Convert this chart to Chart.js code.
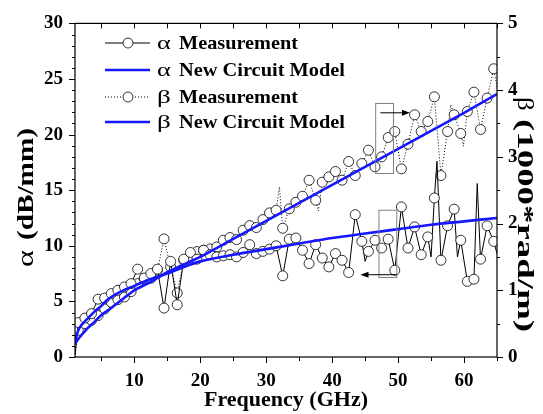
<!DOCTYPE html>
<html>
<head>
<meta charset="utf-8">
<script src="https://cdn.jsdelivr.net/npm/chart.js@4/dist/chart.umd.min.js"></script>
<style>
  html, body { margin: 0; padding: 0; background: #fff; }
  #graph { width: 543px; height: 414px; }
</style>
</head>
<body>
<div id="graph"><canvas id="line-chart" width="543" height="414"></canvas></div>
<script>
// measured points (markers), frequency in GHz
var freqMeas = [1.5, 2.5, 3.5, 4.5, 5.5, 6.5, 7.5, 8.5, 9.5, 10.5, 11.5, 12.5, 13.5, 14.5, 15.5, 16.5,
  17.5, 18.5, 19.5, 20.5, 21.5, 22.5, 23.5, 24.5, 25.5, 26.5, 27.5, 28.5, 29.5, 30.5, 31.5, 32.5,
  33.5, 34.5, 35.5, 36.5, 37.5, 38.5, 39.5, 40.5, 41.5, 42.5, 43.5, 44.5, 45.5, 46.5, 47.5, 48.5,
  49.5, 50.5, 51.5, 52.5, 53.5, 54.5, 55.5, 56.5, 57.5, 58.5, 59.5, 60.5, 61.5, 62.5, 63.5, 64.5];

// alpha (dB/mm), left axis
var alphaMeas = [3.1, 3.5, 3.9, 5.2, 5.3, 5.7, 6.0, 6.3, 6.6, 7.9, 7.1, 7.5, 7.9, 4.4, 8.6, 4.7,
  8.8, 9.4, 8.8, 9.6, 9.2, 9.0, 9.1, 9.2, 9.0, 9.4, 10.1, 9.3, 9.5, 9.7, 10.0, 7.3,
  10.6, 10.7, 9.6, 8.4, 10.1, 8.9, 8.1, 9.3, 8.7, 7.6, 12.8, 10.4, 9.5, 10.5, 9.8, 10.6,
  7.8, 13.5, 9.8, 11.7, 9.2, 10.8, 14.3, 8.7, 11.8, 13.3, 10.5, 6.8, 7.0, 8.8, 11.8, 10.4];
// in-between alpha samples drawn without marker
var alphaSpikeFreq = [1.0, 45.0, 55.0, 55.9, 59.0, 62.0, 65.0];
var alphaSpikeVal = [0.2, 8.6, 9.0, 17.6, 9.0, 15.6, 9.3];

// beta (1000*rad/m), right axis
var betaMeas = [0.4, 0.5, 0.55, 0.62, 0.72, 0.82, 0.86, 0.9, 0.98, 1.1, 1.17, 1.18, 1.3, 1.77, 1.35, 0.96,
  1.45, 1.48, 1.58, 1.6, 1.62, 1.65, 1.75, 1.79, 1.76, 1.9, 1.97, 1.94, 2.06, 2.16, 2.2, 1.93,
  2.22, 2.32, 2.41, 2.65, 2.35, 2.62, 2.7, 2.78, 2.65, 2.93, 2.72, 2.9, 3.1, 2.85, 3.0, 3.29,
  3.38, 2.82, 3.19, 3.63, 3.38, 3.53, 3.9, 2.72, 3.38, 3.63, 3.35, 3.68, 3.97, 3.41, 3.88, 4.32];
var betaSpikeFreq = [1.0, 32.0, 37.9, 58.0, 59.9, 65.0];
var betaSpikeVal = [0.0, 2.55, 2.19, 3.78, 3.16, 4.05];

// new circuit model curves
var modelFreq = [1, 1.5, 2, 3, 4, 5, 6, 8, 10, 12, 15, 18, 20, 25, 30, 35, 40, 45, 50, 55, 60, 65];
var alphaModel = [1.5, 2.4, 2.9, 3.5, 4.1, 4.6, 5.2, 5.9, 6.4, 6.9, 7.5, 8.2, 8.6, 9.2, 9.7, 10.2, 10.7, 11.1, 11.5, 11.9, 12.2, 12.5];
var betaModel = [0.2, 0.27, 0.33, 0.44, 0.53, 0.63, 0.7, 0.85, 1.0, 1.1, 1.27, 1.41, 1.5, 1.77, 2.04, 2.31, 2.58, 2.85, 3.12, 3.39, 3.66, 3.94];

var xTicks = [10, 20, 30, 40, 50, 60];
var leftTicks = [0, 5, 10, 15, 20, 25, 30];
var rightTicks = [0, 1, 2, 3, 4, 5];

var serif = "'Liberation Serif', 'Times New Roman', serif";
var blue = '#1616ff';

function buildSeries(fm, vm, fs, vs) {
  var pts = [];
  for (var i = 0; i < fm.length; i++) pts.push({x: fm[i], y: vm[i], mark: true});
  for (var j = 0; j < fs.length; j++) pts.push({x: fs[j], y: vs[j], mark: false});
  pts.sort(function (a, b) { return a.x - b.x; });
  return pts;
}

function pairs(f, v) {
  return f.map(function (x, i) { return {x: x, y: v[i]}; });
}

function markerRadius(c) {
  return c.raw && c.raw.mark ? 5 : 0;
}

function setTicks(list) {
  return function (scale) {
    scale.ticks = list.map(function (v) { return {value: v}; });
  };
}

function drawArrow(ctx, x1, y, x2) {
  var dir = x2 > x1 ? 1 : -1;
  ctx.beginPath();
  ctx.moveTo(x1, y); ctx.lineTo(x2 - dir * 6, y);
  ctx.stroke();
  ctx.beginPath();
  ctx.moveTo(x2, y); ctx.lineTo(x2 - dir * 8, y - 3); ctx.lineTo(x2 - dir * 8, y + 3);
  ctx.closePath(); ctx.fill();
}

// symbol in regular weight, rest in bold, squeezed/stretched to a given length
function fitText(ctx, sym, rest, size, symW, totalW) {
  ctx.font = size + 'px ' + serif;
  var ws = ctx.measureText(sym).width;
  ctx.save();
  ctx.scale(symW / (ws * 1.6), 1);
  ctx.fillText(sym, 0, 0);
  ctx.restore();
  ctx.font = 'bold ' + size + 'px ' + serif;
  var wr = ctx.measureText(rest).width;
  ctx.save();
  ctx.translate(symW, 0);
  ctx.scale((totalW - symW) / wr, 1);
  ctx.fillText(rest, 0, 0);
  ctx.restore();
}

var decor = {
  id: 'decor',
  afterDraw: function (chart) {
    var ctx = chart.ctx, a = chart.chartArea;
    var sx = chart.scales.x, sl = chart.scales.yL, sr = chart.scales.yR;
    ctx.save();
    ctx.strokeStyle = '#000';
    ctx.fillStyle = '#000';
    ctx.lineWidth = 1.2;
    ctx.strokeRect(a.left, a.top, a.right - a.left, a.bottom - a.top);

    // tick marks
    ctx.lineWidth = 1;
    ctx.beginPath();
    for (var f = 5; f <= 65; f += 5) {
      var px = Math.round(sx.getPixelForValue(f)) + 0.5;
      var len = f % 10 === 0 ? 6 : 4;
      ctx.moveTo(px, a.bottom); ctx.lineTo(px, a.bottom + len);
      ctx.moveTo(px, a.top); ctx.lineTo(px, a.top + 5);
    }
    for (var v = 0; v <= 30; v++) {
      var py = Math.round(sl.getPixelForValue(v)) + 0.5;
      ctx.moveTo(a.left, py); ctx.lineTo(a.left - (v % 5 === 0 ? 6 : 3), py);
    }
    for (var w = 0; w <= 10; w++) {
      var pr = Math.round(sr.getPixelForValue(w / 2)) + 0.5;
      ctx.moveTo(a.right, pr); ctx.lineTo(a.right + (w % 2 === 0 ? 6 : 3), pr);
    }
    ctx.stroke();

    // highlight boxes and arrows
    ctx.strokeStyle = '#808080';
    ctx.lineWidth = 1;
    var bx1 = sx.getPixelForValue(46.6), bx2 = sx.getPixelForValue(49.3);
    var by1 = sr.getPixelForValue(3.8), by2 = sr.getPixelForValue(2.75);
    ctx.strokeRect(bx1, by1, bx2 - bx1, by2 - by1);
    var cx1 = sx.getPixelForValue(47.1), cx2 = sx.getPixelForValue(49.8);
    var cy1 = sl.getPixelForValue(13.2), cy2 = sl.getPixelForValue(7.15);
    ctx.strokeRect(cx1, cy1, cx2 - cx1, cy2 - cy1);
    ctx.strokeStyle = '#000';
    drawArrow(ctx, sx.getPixelForValue(47.3), sr.getPixelForValue(3.66), sx.getPixelForValue(51.8));
    drawArrow(ctx, sx.getPixelForValue(49.8), sl.getPixelForValue(7.4), sx.getPixelForValue(44.3));

    // legend
    var rows = [
      {y: 43, sym: 'α', text: 'Measurement', w: 141, color: '#000', width: 1, dash: [], mark: true},
      {y: 70, sym: 'α', text: 'New Circuit Model', w: 188, color: blue, width: 2.6, dash: [], mark: false},
      {y: 97, sym: 'β', text: 'Measurement', w: 141, color: '#000', width: 1, dash: [1, 2], mark: true},
      {y: 122, sym: 'β', text: 'New Circuit Model', w: 188, color: blue, width: 2.6, dash: [], mark: false}
    ];
    rows.forEach(function (r) {
      ctx.strokeStyle = r.color;
      ctx.lineWidth = r.width;
      ctx.setLineDash(r.dash);
      ctx.beginPath();
      ctx.moveTo(105, r.y); ctx.lineTo(150, r.y);
      ctx.stroke();
      ctx.setLineDash([]);
      if (r.mark) {
        ctx.beginPath();
        ctx.arc(128, r.y, 5, 0, Math.PI * 2);
        ctx.fillStyle = '#fff'; ctx.fill();
        ctx.strokeStyle = '#000'; ctx.lineWidth = 0.8; ctx.stroke();
      }
      ctx.fillStyle = '#000';
      ctx.textBaseline = 'middle';
      ctx.textAlign = 'left';
      ctx.save();
      ctx.translate(157, r.y + 1);
      fitText(ctx, r.sym, r.text, 19, 22, r.w);
      ctx.restore();
    });

    // axis titles
    ctx.textBaseline = 'middle';
    ctx.textAlign = 'center';
    ctx.font = 'bold 22px ' + serif;
    ctx.fillText('Frequency (GHz)', (a.left + a.right) / 2, 400);

    ctx.textAlign = 'left';
    ctx.save();
    ctx.translate(27, 267);
    ctx.rotate(-Math.PI / 2);
    fitText(ctx, 'α', '(dB/mm)', 23, 27, 139);
    ctx.restore();

    ctx.save();
    ctx.translate(524, 97);
    ctx.rotate(Math.PI / 2);
    fitText(ctx, 'β', '(1000*rad/m)', 23, 22, 235);
    ctx.restore();

    ctx.restore();
  }
};

var tickFont = {family: serif, size: 19, weight: 'bold'};

new Chart(document.getElementById('line-chart'), {
  type: 'line',
  data: {
    datasets: [
      {
        label: 'α New Circuit Model',
        data: pairs(modelFreq, alphaModel),
        yAxisID: 'yL',
        borderColor: blue,
        borderWidth: 2.6,
        pointRadius: 0,
        tension: 0.3,
        order: 0
      },
      {
        label: 'β New Circuit Model',
        data: pairs(modelFreq, betaModel),
        yAxisID: 'yR',
        borderColor: blue,
        borderWidth: 2.6,
        pointRadius: 0,
        tension: 0.3,
        order: 0
      },
      {
        label: 'α Measurement',
        data: buildSeries(freqMeas, alphaMeas, alphaSpikeFreq, alphaSpikeVal),
        yAxisID: 'yL',
        borderColor: '#000',
        borderWidth: 1,
        pointRadius: markerRadius,
        pointBackgroundColor: '#fff',
        pointBorderColor: '#000',
        pointBorderWidth: 0.8,
        tension: 0,
        order: 1
      },
      {
        label: 'β Measurement',
        data: buildSeries(freqMeas, betaMeas, betaSpikeFreq, betaSpikeVal),
        yAxisID: 'yR',
        borderColor: '#000',
        borderWidth: 1,
        borderDash: [1, 2],
        pointRadius: markerRadius,
        pointBackgroundColor: '#fff',
        pointBorderColor: '#000',
        pointBorderWidth: 0.8,
        tension: 0,
        order: 2
      }
    ]
  },
  options: {
    responsive: false,
    animation: false,
    devicePixelRatio: 1,
    layout: {padding: {top: 17, right: 0, left: 0, bottom: 0}},
    plugins: {legend: {display: false}, tooltip: {enabled: false}},
    scales: {
      x: {
        type: 'linear',
        min: 1,
        max: 65,
        afterBuildTicks: setTicks(xTicks),
        afterFit: function (s) { s.height = 57; },
        grid: {display: false, drawTicks: false},
        border: {display: false},
        ticks: {font: tickFont, color: '#000', padding: 13, maxRotation: 0}
      },
      yL: {
        type: 'linear',
        position: 'left',
        min: 0,
        max: 30,
        afterBuildTicks: setTicks(leftTicks),
        afterFit: function (s) { s.width = 75; },
        grid: {display: false, drawTicks: false},
        border: {display: false},
        ticks: {font: tickFont, color: '#000', padding: 12}
      },
      yR: {
        type: 'linear',
        position: 'right',
        min: 0,
        max: 5,
        afterBuildTicks: setTicks(rightTicks),
        afterFit: function (s) { s.width = 46; },
        grid: {display: false, drawTicks: false},
        border: {display: false},
        ticks: {font: tickFont, color: '#000', padding: 11}
      }
    }
  },
  plugins: [decor]
});
</script>
</body>
</html>
